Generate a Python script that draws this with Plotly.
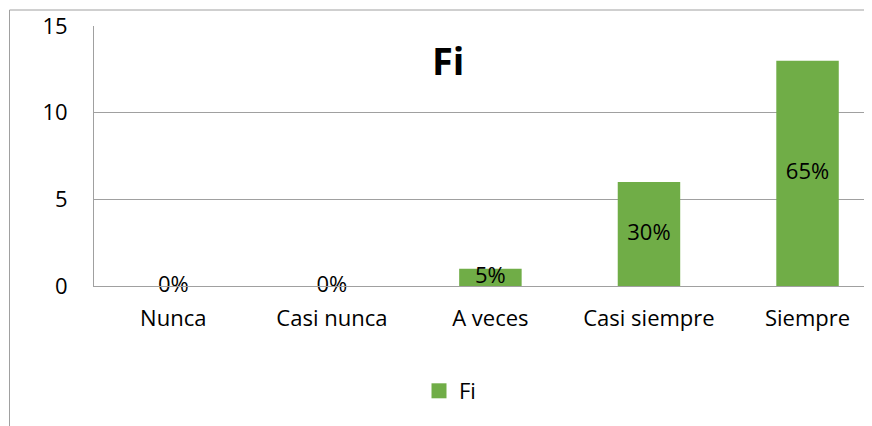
import plotly.graph_objects as go

categorias = ['Nunca', 'Casi nunca', 'A veces', 'Casi siempre', 'Siempre']
fi = [0, 0, 1, 6, 13]
etiquetas = ['0%', '0%', '5%', '30%', '65%']
y_ticks = [0, 5, 10, 15]

VERDE = '#70AD47'
GRIS = '#a0a0a0'
FUENTE = 'Open Sans, Noto Sans, sans-serif'

fig = go.Figure()

# barras
fig.add_trace(go.Bar(
    x=categorias,
    y=fi,
    name='Fi',
    marker_color=VERDE,
    marker_line_width=0,
    width=0.394,
    showlegend=False,
))

# etiquetas de datos (centradas en la barra)
fig.add_trace(go.Scatter(
    x=categorias,
    y=[v / 2 for v in fi],
    text=etiquetas,
    mode='text',
    textposition='middle center',
    textfont=dict(size=22, color='black', family=FUENTE),
    cliponaxis=False,
    showlegend=False,
    hoverinfo='skip',
))

# entrada de leyenda con cuadrado verde
fig.add_trace(go.Scatter(
    x=[None], y=[None],
    mode='markers',
    name='Fi',
    marker=dict(symbol='square', size=15, color=VERDE),
))

# la pagina tiene 8px de margen en body; el grafico sigue a la derecha
ml, mt, mb = 86, 18, 140
W, H = 872, 418
ancho_plot = W - ml
alto_plot = H - mt - mb

fig.update_layout(
    width=W,
    height=H,
    margin=dict(l=ml, r=0, t=mt, b=mb, pad=0),
    plot_bgcolor='white',
    paper_bgcolor='white',
    font=dict(family=FUENTE, size=22, color='black'),
    showlegend=True,
    legend=dict(
        orientation='h',
        x=(411 - ml) / ancho_plot,
        xanchor='left',
        y=-(383 - (H - mb)) / alto_plot,
        yanchor='middle',
        font=dict(size=22),
        borderwidth=0,
    ),
    annotations=[dict(
        text='<b>Fi</b>',
        xref='paper', yref='paper',
        x=(439.5 - ml) / ancho_plot, y=1 - (52.5 - mt) / alto_plot,
        xanchor='center', yanchor='middle',
        showarrow=False,
        font=dict(size=38, family=FUENTE, color='black'),
    )],
    shapes=[dict(
        type='rect',
        xref='paper', yref='paper',
        x0=(1.5 - ml) / ancho_plot, x1=1.5,
        y0=-1, y1=1 + (mt - 2) / alto_plot,
        line=dict(color=GRIS, width=1),
        layer='below',
    )],
)

fig.update_xaxes(
    range=[-0.5, 4.457],
    showgrid=False,
    showline=True,
    linecolor=GRIS,
    linewidth=1,
    ticks='',
    ticklabelstandoff=13,
    tickfont=dict(size=22),
    fixedrange=True,
)

fig.update_yaxes(
    range=[0, 15],
    tickvals=y_ticks,
    showgrid=True,
    gridcolor=GRIS,
    gridwidth=1,
    showline=True,
    linecolor=GRIS,
    linewidth=1,
    zeroline=False,
    ticks='',
    ticklabelstandoff=21,
    tickfont=dict(size=22),
    fixedrange=True,
)

fig.write_html("out.html")
